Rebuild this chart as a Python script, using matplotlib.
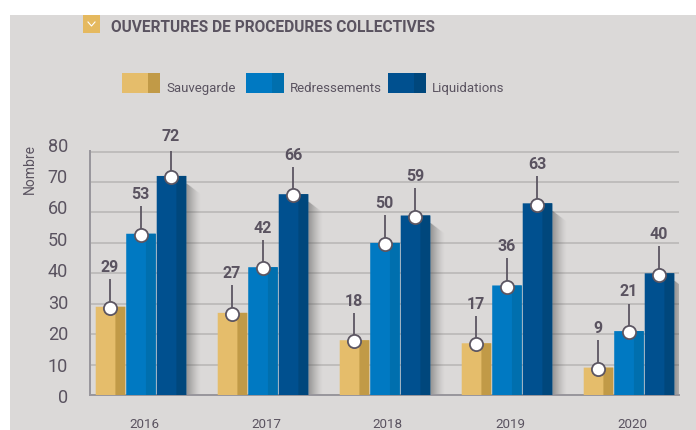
import matplotlib
matplotlib.use('Agg')
import numpy as np
import matplotlib.pyplot as plt
from matplotlib.patches import Rectangle

years = ['2016', '2017', '2018', '2019', '2020']
sauvegarde = [29, 27, 18, 17, 9]
redressements = [53, 42, 50, 36, 21]
liquidations = [72, 66, 59, 63, 40]
yticks = [0, 10, 20, 30, 40, 50, 60, 70, 80]

series_names = ['Sauvegarde', 'Redressements', 'Liquidations']
light = ['#e5bd6b', '#0079c2', '#00508f']
dark = ['#c19a47', '#006fae', '#00477c']
legend_x = [122, 246, 388]
legend_text_x = [166, 290, 432]

bg = '#dbd9d8'
txt = '#5a5360'
W, H = 696, 431
font = ['Roboto', 'DejaVu Sans']

fig = plt.figure(figsize=(W / 100, H / 100), dpi=100, facecolor='white')


# pixel coords (from top left) to figure fraction
def fx(x):
    return x / W


def fy(y):
    return 1 - y / H


fig.patches.append(Rectangle((fx(10), 0), 1 - fx(10), fy(16), transform=fig.transFigure,
                             facecolor=bg, edgecolor='none', zorder=-5))

ax = fig.add_axes([fx(89.5), fy(396), fx(679 - 89.5), fy(152) - fy(396)])
ax.patch.set_alpha(0)
ax.set_xlim(-0.422, 4.41)
ax.set_ylim(0, 80.2)

x = np.arange(len(years))
width = 0.242
offsets = [-0.25, 0, 0.25]
all_series = [sauvegarde, redressements, liquidations]

# shadow on the right of the navy bars, fading out at the top too
for k in range(14):
    ax.bar(x + 0.25 + width / 2 + (k + 0.5) * 0.0082, np.array(liquidations) - 2.5 - 0.25 * k, width=0.0086,
           color='#555555', alpha=0.55 * (1 - k / 14) ** 1.4, linewidth=0, zorder=2, snap=False)

for vals, off, c1, c2 in zip(all_series, offsets, light, dark):
    ax.bar(x + off, vals, width=width, color=c1, linewidth=0, zorder=3, snap=False)
    ax.bar(x + off + width / 3, vals, width=width / 3, color=c2, linewidth=0, zorder=3, snap=False)
    v = np.array(vals)
    ax.vlines(x + off, v, v + 9, color='#5c5662', linewidth=1.3, zorder=4)
    ax.plot(x + off, v - 0.4, 'o', ms=9.5, mfc='white', mec='#5c5662', mew=1.3, zorder=5)
    for xi, val in zip(x + off, vals):
        ax.text(xi - 0.004, val + 13.2, str(val), ha='center', va='center', color=txt,
                fontsize=11.5, fontweight='bold', family=font, zorder=6)

# tick labels are spaced a little wider than the gridlines in the source
ax.set_yticks(yticks)
ax.set_yticklabels([])
for t in yticks:
    fig.text(fx(68), fy(398.5 - 3.15 * t), str(t), ha='right', va='center', color=txt,
             fontsize=13, family=font)
ax.set_xticks(x + 0.024)
ax.set_xticklabels(years, color=txt, fontsize=9.6, family=font)
ax.tick_params(axis='both', length=0)
ax.tick_params(axis='x', pad=15.5)
ax.grid(axis='y', color='#bab8b7', linewidth=1.2, zorder=1)
ax.set_axisbelow(True)
for s in ['top', 'right']:
    ax.spines[s].set_visible(False)
for s in ['left', 'bottom']:
    ax.spines[s].set_color('#98969c')
    ax.spines[s].set_linewidth(1.4)
    ax.spines[s].set_zorder(2.5)

fig.text(fx(30), fy(169), 'Nombre', rotation=90, ha='center', va='center', color=txt,
         fontsize=10, family=font)

# title and icon
fig.patches.append(Rectangle((fx(83), fy(34)), fx(17), fy(16) - fy(34), transform=fig.transFigure,
                             facecolor='#e5b95f', edgecolor='none', zorder=-4))
fig.add_artist(plt.Line2D([fx(88), fx(91.5), fx(95)], [fy(23), fy(27), fy(23)], color='white',
                          linewidth=0.8, transform=fig.transFigure))
fig.text(fx(111), fy(28), 'OUVERTURES DE PROCEDURES COLLECTIVES', ha='left', va='center',
         color=txt, fontsize=11.2, fontweight='bold', family=font)

# legend
for name, lx, tx, c1, c2 in zip(series_names, legend_x, legend_text_x, light, dark):
    fig.patches.append(Rectangle((fx(lx), fy(94)), fx(26), fy(74) - fy(94), transform=fig.transFigure,
                                 facecolor=c1, edgecolor='none', zorder=-4))
    fig.patches.append(Rectangle((fx(lx + 26), fy(94)), fx(12), fy(74) - fy(94), transform=fig.transFigure,
                                 facecolor=c2, edgecolor='none', zorder=-4))
    fig.text(fx(tx), fy(88.5), name, ha='left', va='center', color=txt, fontsize=9.5, family=font)

fig.savefig('out.png', dpi=100, facecolor='white')
